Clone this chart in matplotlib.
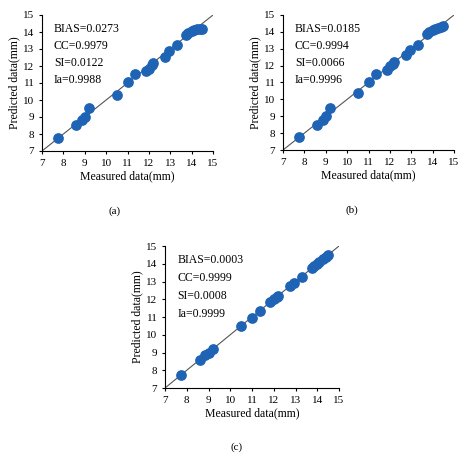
import matplotlib.pyplot as plt

plt.rcParams['font.family'] = ['Liberation Serif', 'DejaVu Serif']

measured = [7.75, 8.6, 8.85, 9.0, 9.2, 10.5, 11.0, 11.35, 11.85, 12.0, 12.15, 12.2,
            12.75, 12.95, 13.3, 13.75, 13.85, 14.0, 14.1, 14.25, 14.4, 14.5]
pred_a = [7.75, 8.5, 8.8, 9.0, 9.5, 10.3, 11.05, 11.5, 11.7, 11.85, 12.05, 12.2,
          12.55, 12.9, 13.25, 13.85, 13.95, 14.05, 14.1, 14.15, 14.2, 14.2]
pred_b = [7.75, 8.5, 8.8, 9.0, 9.5, 10.35, 11.05, 11.5, 11.75, 11.95, 12.1, 12.2,
          12.6, 12.9, 13.25, 13.9, 14.0, 14.1, 14.15, 14.2, 14.3, 14.35]
pred_c = [7.75, 8.58, 8.85, 9.0, 9.2, 10.48, 10.95, 11.32, 11.85, 12.0, 12.15, 12.2,
          12.75, 12.93, 13.28, 13.75, 13.85, 14.0, 14.1, 14.25, 14.4, 14.5]
stats = {
    "(a)": ["BIAS=0.0273", "CC=0.9979", "SI=0.0122", "Ia=0.9988"],
    "(b)": ["BIAS=0.0185", "CC=0.9994", "SI=0.0066", "Ia=0.9996"],
    "(c)": ["BIAS=0.0003", "CC=0.9999", "SI=0.0008", "Ia=0.9999"],
}
ticks = list(range(7, 16))

W, H = 474, 461
fig = plt.figure(figsize=(W / 100, H / 100), dpi=100)

panels = [
    ("(a)", pred_a, (42, 15, 213, 151), (115, 211)),
    ("(b)", pred_b, (283, 15, 454, 150), (352, 210)),
    ("(c)", pred_c, (165, 246, 339, 388), (237, 447)),
]
for label, pred, (x0, y0, x1, y1), (lx, ly) in panels:
    ax = fig.add_axes([x0 / W, 1 - y1 / H, (x1 - x0) / W, (y1 - y0) / H])
    ax.plot([7, 15], [7, 15], color='#555555', lw=0.8, zorder=1)
    ax.scatter(measured, pred, s=45, color='#1f63b5', zorder=2)
    ax.set_xlim(7, 15)
    ax.set_ylim(7, 15)
    ax.set_xticks(ticks)
    ax.set_yticks(ticks)
    ax.tick_params(labelsize=8, length=2)
    for s in ['top', 'right']:
        ax.spines[s].set_visible(False)
    ax.set_xlabel("Measured data(mm)", fontsize=8.5, labelpad=2)
    ax.set_ylabel("Predicted data(mm)", fontsize=8.5, labelpad=2)
    for i, t in enumerate(stats[label]):
        ax.text(0.07, 0.9 - i * 0.127, t, transform=ax.transAxes, fontsize=8.5, va='center')
    fig.text(lx / W, 1 - ly / H, label, fontsize=8, ha='center', va='center')

fig.savefig("out.png", dpi=100)
